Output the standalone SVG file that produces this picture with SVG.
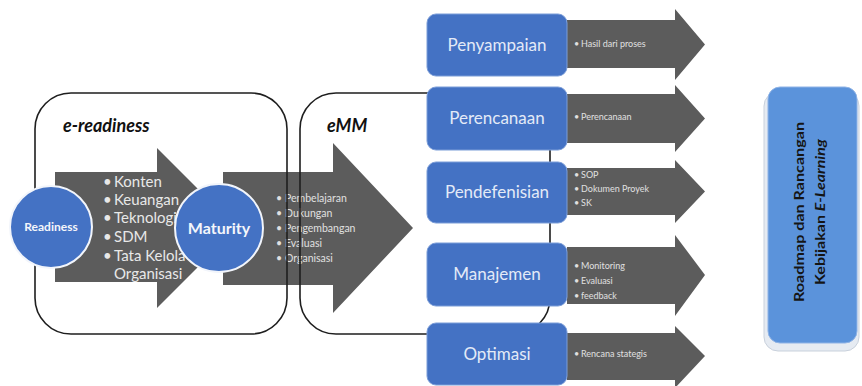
<svg xmlns="http://www.w3.org/2000/svg" width="862" height="386" viewBox="0 0 862 386">
<style>
  text { font-family: Lato, "Liberation Sans", sans-serif; }
  .garrow { fill: #5c5c5c; }
  .container { fill: none; stroke: #1e1e1e; stroke-width: 1.6; }
  .title { font-weight: bold; font-style: italic; font-size: 18px; fill: #111; }
  .circ { fill: #4472c4; stroke: #f2f5fb; stroke-width: 2; }
  .ctext { fill: #f4f6fb; font-weight: bold; text-anchor: middle; }
  .bbox { fill: #4472c4; stroke: #7b9dd8; stroke-width: 1; }
  .btext { fill: #e3eaf7; font-size: 17px; text-anchor: middle; }
  .big { fill: #e8e8e8; font-size: 15px; }
  .mid { fill: #e0e0e0; font-size: 10.5px; }
  .small { fill: #e0e0e0; font-size: 9px; }
</style>

<!-- e-readiness and eMM arrows -->
<g id="arrow-readiness">
  <polygon class="garrow" points="55,172 157,172 157,148 237,228 157,308 157,282 55,282"/>
  <g class="big">
    <text x="103" y="187">•</text><text x="114" y="187">Konten</text>
    <text x="103" y="205">•</text><text x="114" y="205">Keuangan</text>
    <text x="103" y="223">•</text><text x="114" y="223">Teknologi</text>
    <text x="103" y="242">•</text><text x="114" y="242">SDM</text>
    <text x="103" y="261">•</text><text x="114" y="261">Tata Kelola</text>
    <text x="114" y="279">Organisasi</text>
  </g>
</g>
<g id="arrow-maturity">
  <polygon class="garrow" points="223,172 333,172 333,143 413,228 333,313 333,285 223,285"/>
  <g class="mid">
    <text x="276" y="202">•</text><text x="285" y="202">Pembelajaran</text>
    <text x="276" y="217">•</text><text x="285" y="217">Dukungan</text>
    <text x="276" y="232">•</text><text x="285" y="232">Pengembangan</text>
    <text x="276" y="247">•</text><text x="285" y="247">Evaluasi</text>
    <text x="276" y="262">•</text><text x="285" y="262">Organisasi</text>
  </g>
</g>

<!-- containers (connectors/frames) -->
<g id="connectors">
  <rect id="frame-ereadiness" class="container" x="35" y="93" width="252" height="241" rx="36" ry="36"/>
  <rect id="frame-emm" class="container" x="300" y="93" width="250" height="241" rx="36" ry="36"/>
</g>
<text class="title" x="63" y="132">e-readiness</text>
<text class="title" x="327" y="132">eMM</text>

<g id="node-readiness">
  <circle class="circ" cx="51" cy="227" r="41"/>
  <text class="ctext" x="51" y="231" font-size="12">Readiness</text>
</g>
<g id="node-maturity">
  <circle class="circ" cx="219" cy="228" r="44"/>
  <text class="ctext" x="219" y="234" font-size="16">Maturity</text>
</g>

<!-- right column -->
<g id="node-penyampaian">
  <polygon class="garrow" points="567,20 675,20 675,9 705,44.5 675,80 675,68 567,68"/>
  <rect class="bbox" x="427" y="14" width="140" height="62" rx="9"/>
  <text class="btext" x="497" y="51">Penyampaian</text>
  <text class="small" x="574" y="47">•</text><text class="small" x="581" y="47">Hasil dari proses</text>
</g>
<g id="node-perencanaan">
  <polygon class="garrow" points="567,94 675,94 675,85 705,118.5 675,152 675,143 567,143"/>
  <rect class="bbox" x="427" y="87" width="140" height="63" rx="9"/>
  <text class="btext" x="497" y="124">Perencanaan</text>
  <text class="small" x="574" y="120">•</text><text class="small" x="581" y="120">Perencanaan</text>
</g>
<g id="node-pendefenisian">
  <polygon class="garrow" points="567,168 675,168 675,160 705,191.5 675,223 675,215 567,215"/>
  <rect class="bbox" x="427" y="162" width="140" height="61" rx="9"/>
  <text class="btext" x="497" y="198">Pendefenisian</text>
  <text class="small" x="574" y="178">•</text><text class="small" x="581" y="178">SOP</text>
  <text class="small" x="574" y="192">•</text><text class="small" x="581" y="192">Dokumen Proyek</text>
  <text class="small" x="574" y="206">•</text><text class="small" x="581" y="206">SK</text>
</g>
<g id="node-manajemen">
  <polygon class="garrow" points="567,247 675,247 675,235 705,275 675,316 675,304 567,304"/>
  <rect class="bbox" x="427" y="243" width="140" height="63" rx="9"/>
  <text class="btext" x="497" y="280">Manajemen</text>
  <text class="small" x="574" y="269">•</text><text class="small" x="581" y="269">Monitoring</text>
  <text class="small" x="574" y="284">•</text><text class="small" x="581" y="284">Evaluasi</text>
  <text class="small" x="574" y="299">•</text><text class="small" x="581" y="299">feedback</text>
</g>
<g id="node-optimasi">
  <polygon class="garrow" points="567,333 675,333 675,326 705,356 675,388 675,380 567,380"/>
  <rect class="bbox" x="427" y="323" width="140" height="62" rx="9"/>
  <text class="btext" x="497" y="360">Optimasi</text>
  <text class="small" x="574" y="357">•</text><text class="small" x="581" y="357">Rencana stategis</text>
</g>

<g id="node-roadmap">
  <rect x="764" y="92" width="95" height="259" rx="14" fill="#e6ebf2" stroke="#c9d1dc" stroke-width="1"/>
  <rect x="768" y="87" width="89" height="256" rx="12" fill="#5b93db" stroke="#8fb3e6" stroke-width="1"/>
  <text transform="translate(804,212) rotate(-90)" text-anchor="middle" font-size="14" font-weight="bold" fill="#151515" textLength="180" lengthAdjust="spacingAndGlyphs">Roadmap dan Rancangan</text>
  <text transform="translate(825,212) rotate(-90)" text-anchor="middle" font-size="14" font-weight="bold" fill="#151515" textLength="146" lengthAdjust="spacingAndGlyphs">Kebijakan <tspan font-style="italic">E-Learning</tspan></text>
</g>
</svg>
